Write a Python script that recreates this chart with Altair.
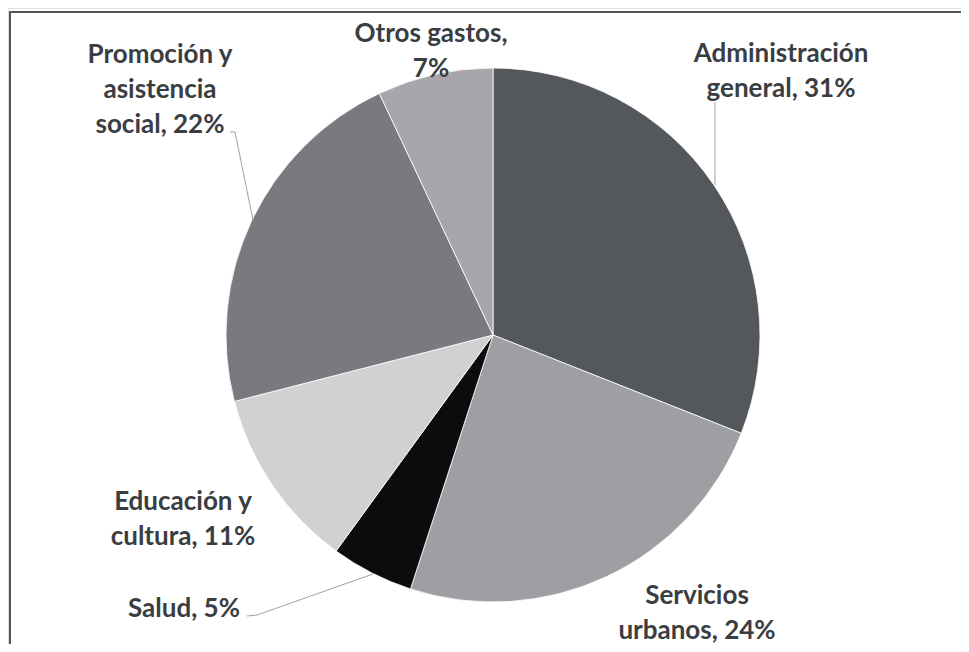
import altair as alt
import pandas as pd

# Data
categories = ["Administración general", "Servicios urbanos", "Salud",
              "Educación y cultura", "Promoción y asistencia social", "Otros gastos"]
shares = [31, 24, 5, 11, 22, 7]
colors = ["#54575b", "#9d9fa3", "#0c0b0e", "#d0d1d3", "#797a7f", "#a8a6ab"]
label_text = ["Administración\ngeneral, 31%", "Servicios\nurbanos, 24%", "Salud, 5%",
              "Educación y\ncultura, 11%", "Promoción y\nasistencia\nsocial, 22%", "Otros gastos,\n7%"]

# Label layout (page pixel coordinates: text centre x, first line y)
label_x = [781, 697, 184, 183, 160, 431]
label_y = [54, 596, 609, 502, 55, 34]

# Leader lines (page pixel coordinates)
leader_id = ["a", "a", "p", "p", "p", "s", "s", "s"]
leader_x = [715, 715, 230, 235, 253, 247, 257, 373]
leader_y = [102, 185, 132, 132, 220, 616, 615, 574]

W, H = 953, 636
CX, CY, R = 493, 335, 267

pie_df = pd.DataFrame({"cat": categories, "share": shares, "order": list(range(len(categories)))})
lab_df = pd.DataFrame({"text": label_text, "x": label_x, "y": label_y})
lead_df = pd.DataFrame({"id": leader_id, "x": leader_x, "y": leader_y, "o": list(range(len(leader_x)))})
frame_df = pd.DataFrame({"x": [10, 10, 961], "y": [644, 12, 12], "o": [0, 1, 2]})

xs = alt.Scale(domain=[8, 8 + W])
ys = alt.Scale(domain=[8, 8 + H], reverse=True)

pie = alt.Chart(pie_df).mark_arc(radius=R, stroke="#ffffff", strokeWidth=0.8).encode(
    theta=alt.Theta("share:Q", stack=True),
    order=alt.Order("order:Q"),
    color=alt.Color("cat:N", scale=alt.Scale(domain=categories, range=colors), legend=None),
    x=alt.value(CX - 8),
    y=alt.value(CY - 8),
)

labels = alt.Chart(lab_df).mark_text(
    font="Lato", fontSize=26, fontWeight="bold", color="#3a3d41",
    lineBreak="\n", lineHeight=35, align="center", baseline="middle",
).encode(
    x=alt.X("x:Q", scale=xs, axis=None),
    y=alt.Y("y:Q", scale=ys, axis=None),
    text="text:N",
)

leaders = alt.Chart(lead_df).mark_line(color="#a0a0a0", strokeWidth=1).encode(
    x=alt.X("x:Q", scale=xs, axis=None),
    y=alt.Y("y:Q", scale=ys, axis=None),
    detail="id:N",
    order="o:Q",
)

frame = alt.Chart(frame_df).mark_line(color="#555555", strokeWidth=2).encode(
    x=alt.X("x:Q", scale=xs, axis=None),
    y=alt.Y("y:Q", scale=ys, axis=None),
    order="o:Q",
)

chart = alt.layer(frame, pie, leaders, labels).properties(
    width=W, height=H, padding=0,
    autosize=alt.AutoSizeParams(type="none"),
).configure_view(strokeWidth=0).configure(background="#ffffff")

chart.save("out.html", embed_options={"renderer": "svg", "actions": False})
